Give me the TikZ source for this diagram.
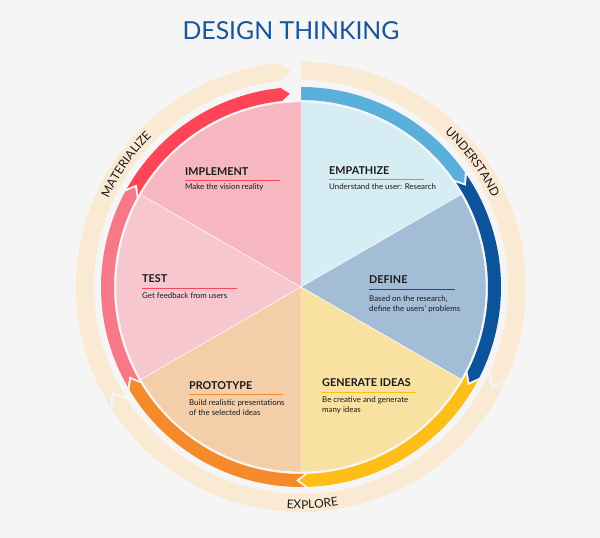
\documentclass[tikz,border=0pt]{standalone}
\usepackage{fontspec}
\setmainfont{Lato}
\usetikzlibrary{calc,decorations.text}
\definecolor{dtbg}{RGB}{245,245,245}
\definecolor{dtblue}{RGB}{23,85,157}
\definecolor{dtink}{RGB}{26,26,26}
\definecolor{dtring}{RGB}{251,234,211}
% slice colours
\definecolor{dtempath}{RGB}{214,237,243}
\definecolor{dtdefine}{RGB}{164,189,215}
\definecolor{dtgenerate}{RGB}{248,225,161}
\definecolor{dtproto}{RGB}{243,206,169}
\definecolor{dttest}{RGB}{247,199,207}
\definecolor{dtimpl}{RGB}{247,183,192}
% arrow colours
\definecolor{arempath}{RGB}{91,175,219}
\definecolor{ardefine}{RGB}{12,83,155}
\definecolor{argenerate}{RGB}{253,191,23}
\definecolor{arproto}{RGB}{244,138,41}
\definecolor{artest}{RGB}{247,121,136}
\definecolor{arimpl}{RGB}{253,69,87}

\begin{document}
\begin{tikzpicture}[x=1pt,y=1pt,
  steptitle/.style={font=\fontsize{10.8}{10.8}\selectfont\bfseries, text=dtink, inner sep=0pt, anchor=base west},
  stepnote/.style={font=\fontsize{7.9}{10}\selectfont, text=dtink, inner sep=0pt, anchor=base west, align=left},
  phase/.style={decorate, decoration={text along path, text align=center, text color=dtink}}]
\useasboundingbox (0,0) rectangle (600,538);
\fill[dtbg] (0,0) rectangle (600,538);
\node[font=\fontsize{24.8}{24.8}\selectfont, text=dtblue] (title) at (291,507) {DESIGN THINKING};
\coordinate (C) at (301,251);
% Outer ring: three phases
\foreach \s/\e/\n in {90/-27/0, -25/-150/3, -148/-267.3/3} {
  \fill[dtring] ($(C)+(\s:225)$) arc[start angle=\s, end angle=\e+3, radius=225]
    -- ($(C)+(\e:216)$) -- ($(C)+(\e+3:207)$) arc[start angle=\e+3, end angle=\s, radius=207]
    -- ($(C)+(\s-\n:216)$) -- cycle;
}
% Inner ring: six steps
\foreach \s/\e/\n/\c in {90/32.5/0/arempath, 34/-29.5/2.5/ardefine, -28/-90.5/2.5/argenerate,
    -89/-151.5/2.5/arproto, -150/-211/2.5/artest, -209.5/-266.7/2.5/arimpl} {
  \fill[\c] ($(C)+(\s:200)$) arc[start angle=\s, end angle=\e+2.5, radius=200]
    -- ($(C)+(\e:193.5)$) -- ($(C)+(\e+2.5:187)$) arc[start angle=\e+2.5, end angle=\s, radius=187]
    -- ($(C)+(\s-\n:193.5)$) -- cycle;
}
% Pie
\foreach \a/\c in {90/dtempath, 30/dtdefine, -30/dtgenerate, -90/dtproto, -150/dttest, 150/dtimpl} {
  \filldraw[fill=\c, draw=white, line width=0.4pt] (C) -- ($(C)+(\a:185)$)
    arc[start angle=\a, end angle=\a-60, radius=185] -- cycle;
}
% Step labels
\node[steptitle] (implement) at (185,362) {IMPLEMENT};
\draw[arimpl] ($(implement.base west)+(0,-4)$) -- ++(95,0);
\node[stepnote] (implementnote) at (185,348) {Make the vision reality};
\node[steptitle] (empathize) at (329,363) {EMPATHIZE};
\draw[arempath] ($(empathize.base west)+(0,-4)$) -- ++(95,0);
\node[stepnote] (empathizenote) at (329,348) {Understand the user: Research};
\node[steptitle] (test) at (142,255) {TEST};
\draw[arimpl] ($(test.base west)+(0,-5)$) -- ++(95,0);
\node[stepnote] (testnote) at (142,239) {Get feedback from users};
\node[steptitle] (define) at (369,254) {DEFINE};
\draw[ardefine] ($(define.base west)+(0,-5)$) -- ++(86,0);
\node[stepnote] (definenote) at (369,226) {Based on the research,\\define the users' problems};
\node[steptitle] (prototype) at (189,148) {PROTOTYPE};
\draw[arproto] ($(prototype.base west)+(0,-4)$) -- ++(94,0);
\node[stepnote] (prototypenote) at (189,122) {Build realistic presentations\\of the selected ideas};
\node[steptitle] (generate) at (322,151) {GENERATE IDEAS};
\draw[argenerate] ($(generate.base west)+(0,-5)$) -- ++(94,0);
\node[stepnote] (generatenote) at (322,125) {Be creative and generate\\many ideas};
% Phase labels on the outer ring
\path[phase, decoration={text={|\fontsize{12}{12}\selectfont|UNDERSTAND}}]
  ($(C)+(62:211)$) arc[start angle=62, end angle=10, radius=211];
\path[phase, decoration={text={|\fontsize{12}{12}\selectfont|EXPLORE}}]
  ($(C)+(-112:222)$) arc[start angle=-112, end angle=-62, radius=222];
\path[phase, decoration={text={|\fontsize{12}{12}\selectfont|MATERIALIZE}}]
  ($(C)+(175:212)$) arc[start angle=175, end angle=115, radius=212];
\end{tikzpicture}
\end{document}
